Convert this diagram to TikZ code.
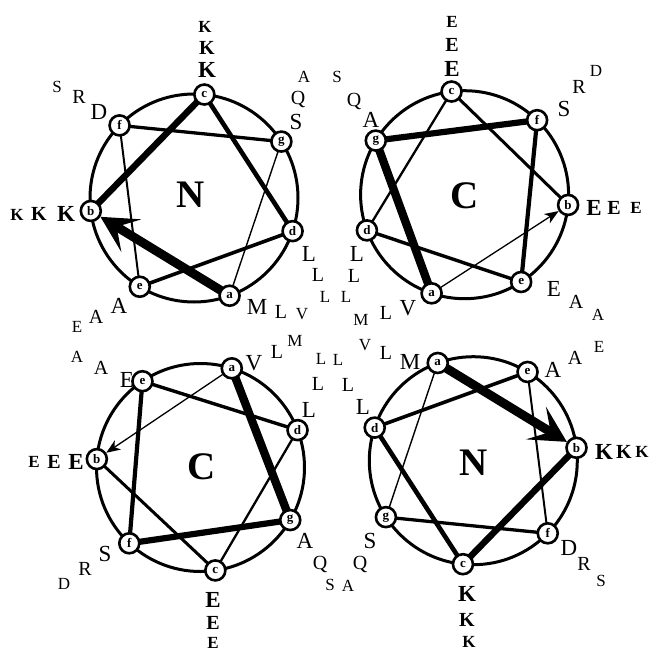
\documentclass[tikz,border=0pt]{standalone}
\usepackage{fontspec}
\setmainfont{Liberation Serif}
\usetikzlibrary{arrows.meta,calc}
\pgfdeclarelayer{bg}
\pgfsetlayers{bg,main}
\begin{document}
\begin{tikzpicture}[x=1pt,y=-1pt,
  res/.style={circle,draw,line width=2.6pt,fill=white,minimum size=20pt,inner sep=0pt,font=\bfseries\fontsize{13}{13}\selectfont},
  ring/.style={line width=3pt},
  t1/.style={inner sep=0pt,font=\fontsize{23}{23}\selectfont},
  t2/.style={inner sep=0pt,font=\fontsize{20}{20}\selectfont},
  t3/.style={inner sep=0pt,font=\fontsize{17}{17}\selectfont},
  k1/.style={inner sep=0pt,font=\bfseries\fontsize{23}{23}\selectfont},
  k2/.style={inner sep=0pt,font=\bfseries\fontsize{20}{20}\selectfont},
  k3/.style={inner sep=0pt,font=\bfseries\fontsize{17}{17}\selectfont},
  hub/.style={inner sep=0pt,font=\bfseries\fontsize{39}{39}\selectfont},
  bigarrow/.style={-{Stealth[length=36pt,width=38pt,inset=17pt]}},
  smallarrow/.style={-{Stealth[length=14pt,width=11pt,inset=4pt]}}
]
\useasboundingbox (0,0) rectangle (650,651);
\coordinate (W1) at (194,198);
\coordinate (W2) at (464.6,194.7);
\coordinate (W3) at (200.5,467.5);
\coordinate (W4) at (473.3,460.7);
\foreach \w/\a/\s in {1/70/102.857, 2/108.5/-102.857, 3/-72.5/-102.857, 4/-110/102.857}{
  \foreach \l [count=\i from 0] in {a,b,c,d,e,f,g}{
    \node[res] (w\w\l) at ($(W\w)+({\a+\i*\s}:104)$) {\l};
  }
}
\node[hub] (w1n) at (191,195) {N};
\node[hub] (w2n) at (464.5,195.5) {C};
\node[hub] (w3n) at (202,467) {C};
\node[hub] (w4n) at (474,463) {N};
\begin{pgfonlayer}{bg}
\foreach \w in {1,2,3,4} \draw[ring] (W\w) circle[radius=104];
\foreach \w in {1,4}{
  \draw[line width=9pt,bigarrow] (w\w a.center) -- (w\w b);
  \draw[line width=6.5pt] (w\w b.center) -- (w\w c.center);
  \draw[line width=4.6pt] (w\w c.center) -- (w\w d.center);
  \draw[line width=3.6pt] (w\w d.center) -- (w\w e.center);
  \draw[line width=2pt] (w\w e.center) -- (w\w f.center);
  \draw[line width=3.3pt] (w\w f.center) -- (w\w g.center);
  \draw[line width=1.4pt] (w\w g.center) -- (w\w a.center);
}
\foreach \w in {2,3}{
  \draw[line width=1.3pt,smallarrow] (w\w a.center) -- (w\w b);
  \draw[line width=3pt] (w\w b.center) -- (w\w c.center);
  \draw[line width=2.3pt] (w\w c.center) -- (w\w d.center);
  \draw[line width=3.4pt] (w\w d.center) -- (w\w e.center);
  \draw[line width=4.2pt] (w\w e.center) -- (w\w f.center);
  \draw[line width=6.2pt] (w\w f.center) -- (w\w g.center);
  \draw[line width=8.3pt] (w\w g.center) -- (w\w a.center);
}
\end{pgfonlayer}
% wheel 1
\node[k1] (w1c1) at (207,70) {K};
\node[k2] (w1c2) at (207,48) {K};
\node[k3] (w1c3) at (205,27) {K};
\node[t1] (w1g1) at (296,122) {S};
\node[t2] (w1g2) at (298,99) {Q};
\node[t3] (w1g3) at (304,77) {A};
\node[t1] (w1d1) at (309,254) {L};
\node[t2] (w1d2) at (318,275) {L};
\node[t3] (w1d3) at (325,297) {L};
\node[t1] (w1a1) at (257,307) {M};
\node[t2] (w1a2) at (281,312) {L};
\node[t3] (w1a3) at (302,314) {V};
\node[t1] (w1e1) at (119,306) {A};
\node[t2] (w1e2) at (96,317) {A};
\node[t3] (w1e3) at (77,327) {E};
\node[k1] (w1b1) at (66,214) {K};
\node[k2] (w1b2) at (39,214) {K};
\node[k3] (w1b3) at (17,215) {K};
\node[t1] (w1f1) at (99,112) {D};
\node[t2] (w1f2) at (79,97) {R};
\node[t3] (w1f3) at (57,87) {S};
% wheel 2
\node[k1] (w2c1) at (452,69) {E};
\node[k2] (w2c2) at (452,45) {E};
\node[k3] (w2c3) at (452,22) {E};
\node[t1] (w2f1) at (564,109) {S};
\node[t2] (w2f2) at (579,87) {R};
\node[t3] (w2f3) at (596,71) {D};
\node[k1] (w2b1) at (594,208) {E};
\node[k2] (w2b2) at (614,208) {E};
\node[k3] (w2b3) at (636,208) {E};
\node[t1] (w2e1) at (554,289) {E};
\node[t2] (w2e2) at (576,302) {A};
\node[t3] (w2e3) at (598,315) {A};
\node[t1] (w2a1) at (408,308) {V};
\node[t2] (w2a2) at (386,313) {L};
\node[t3] (w2a3) at (361,320) {M};
\node[t1] (w2d1) at (357,254) {L};
\node[t2] (w2d2) at (354,276) {L};
\node[t3] (w2d3) at (346,297) {L};
\node[t1] (w2g1) at (371,120) {A};
\node[t2] (w2g2) at (354,101) {Q};
\node[t3] (w2g3) at (337,77) {S};
% wheel 3
\node[t1] (w3a1) at (254,363) {V};
\node[t2] (w3a2) at (277,352) {L};
\node[t3] (w3a3) at (295,341) {M};
\node[t1] (w3d1) at (309,410) {L};
\node[t2] (w3d2) at (318,384) {L};
\node[t3] (w3d3) at (321,359) {L};
\node[t1] (w3g1) at (305,541) {A};
\node[t2] (w3g2) at (320,564) {Q};
\node[t3] (w3g3) at (330,585) {S};
\node[k1] (w3c1) at (213,600) {E};
\node[k2] (w3c2) at (213,623) {E};
\node[k3] (w3c3) at (213,643) {E};
\node[t1] (w3f1) at (105,554) {S};
\node[t2] (w3f2) at (85,569) {R};
\node[t3] (w3f3) at (64,584) {D};
\node[k1] (w3b1) at (76,462) {E};
\node[k2] (w3b2) at (54,462) {E};
\node[k3] (w3b3) at (34,462) {E};
\node[t1] (w3e1) at (127,380) {E};
\node[t2] (w3e2) at (101,368) {A};
\node[t3] (w3e3) at (77,357) {A};
% wheel 4
\node[t1] (w4a1) at (410,362) {M};
\node[t2] (w4a2) at (386,353) {L};
\node[t3] (w4a3) at (365,345) {V};
\node[t1] (w4d1) at (363,407) {L};
\node[t2] (w4d2) at (348,385) {L};
\node[t3] (w4d3) at (338,360) {L};
\node[t1] (w4g1) at (370,541) {S};
\node[t2] (w4g2) at (360,564) {Q};
\node[t3] (w4g3) at (348,586) {A};
\node[k1] (w4c1) at (467,594) {K};
\node[k2] (w4c2) at (467,620) {K};
\node[k3] (w4c3) at (469,642) {K};
\node[t1] (w4f1) at (569,548) {D};
\node[t2] (w4f2) at (584,564) {R};
\node[t3] (w4f3) at (601,581) {S};
\node[k1] (w4b1) at (604,452) {K};
\node[k2] (w4b2) at (624,452) {K};
\node[k3] (w4b3) at (642,452) {K};
\node[t1] (w4e1) at (553,370) {A};
\node[t2] (w4e2) at (575,358) {A};
\node[t3] (w4e3) at (599,347) {E};
\end{tikzpicture}
\end{document}
